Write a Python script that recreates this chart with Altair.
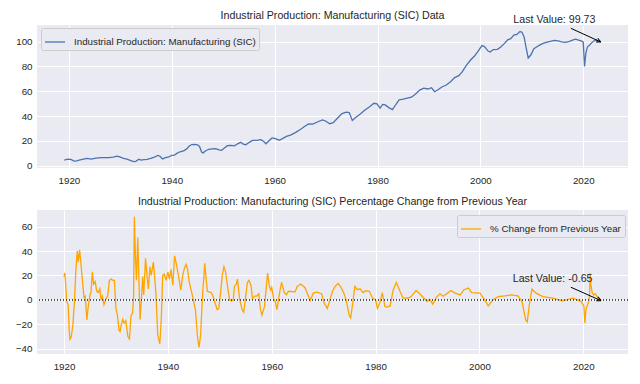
import altair as alt
import pandas as pd

# ---- Industrial Production: Manufacturing (SIC) index ----
ip_years = [1919.1, 1919.6, 1920.0, 1920.5, 1921.0, 1921.5, 1922.0, 1922.8, 1923.5, 1924.4,
            1925.0, 1925.7, 1926.5, 1927.3, 1927.8, 1928.6, 1929.4, 1929.9, 1930.6, 1931.3,
            1931.9, 1932.6, 1933.0, 1933.6, 1934.0, 1934.6, 1935.2, 1935.9, 1936.5, 1937.3,
            1937.7, 1938.2, 1938.8, 1939.4, 1940.0, 1940.5, 1941.0, 1941.6, 1942.3, 1942.9,
            1943.4, 1943.9, 1944.5, 1945.0, 1945.4, 1945.8, 1946.1, 1946.6, 1947.2, 1947.9,
            1948.5, 1949.2, 1949.7, 1950.3, 1950.8, 1951.5, 1952.2, 1952.8, 1953.4, 1953.9,
            1954.4, 1955.0, 1955.7, 1956.5, 1957.3, 1957.9, 1958.3, 1959.0, 1959.5, 1960.0,
            1960.9, 1961.6, 1962.3, 1963.2, 1964.1, 1965.0, 1965.8, 1966.6, 1967.4, 1968.3,
            1969.3, 1969.9, 1970.7, 1971.4, 1972.2, 1973.1, 1973.9, 1974.5, 1975.1, 1975.8,
            1976.6, 1977.5, 1978.4, 1979.3, 1979.9, 1980.5, 1981.0, 1981.5, 1982.2, 1982.9,
            1983.6, 1984.2, 1985.0, 1985.8, 1986.6, 1987.4, 1988.2, 1989.0, 1989.8, 1990.5,
            1991.1, 1991.7, 1992.5, 1993.3, 1994.2, 1995.0, 1995.8, 1996.5, 1997.3, 1998.1,
            1998.9, 1999.6, 2000.3, 2000.8, 2001.5, 2001.9, 2002.5, 2003.3, 2003.9, 2004.6,
            2005.3, 2005.9, 2006.5, 2007.1, 2007.7, 2008.1, 2008.5, 2008.9, 2009.3, 2009.8,
            2010.4, 2011.0, 2011.6, 2012.3, 2013.0, 2013.8, 2014.4, 2015.1, 2015.8, 2016.5,
            2017.2, 2017.9, 2018.5, 2019.1, 2019.7, 2020.0, 2020.25, 2020.5, 2020.8, 2021.2,
            2021.6, 2022.0, 2022.5, 2022.9, 2023.2, 2023.4]
ip_values = [4.5, 5.0, 5.2, 4.8, 3.6, 3.8, 4.4, 5.3, 5.9, 5.3,
             5.8, 6.3, 6.5, 6.4, 6.5, 6.9, 7.6, 7.0, 5.8, 5.2,
             4.3, 3.3, 3.5, 5.2, 4.4, 4.8, 5.0, 5.8, 6.6, 8.3,
             7.6, 5.4, 6.4, 7.0, 8.2, 8.4, 9.9, 11.2, 11.8, 13.5,
             15.8, 17.0, 17.2, 16.8, 15.5, 11.0, 10.3, 12.0, 13.2, 13.6,
             13.7, 12.8, 12.4, 14.4, 16.1, 16.4, 16.0, 17.6, 18.8, 17.4,
             16.9, 18.6, 20.3, 20.4, 21.0, 19.5, 17.6, 20.5, 22.3, 21.9,
             20.5, 22.0, 23.6, 24.8, 26.8, 29.2, 31.6, 33.6, 33.5, 35.2,
             36.9, 36.0, 33.8, 34.6, 38.2, 42.0, 43.2, 42.8, 36.5, 39.0,
             41.5, 44.6, 47.2, 50.3, 49.8, 46.4, 49.4, 49.0, 46.8, 45.2,
             49.5, 53.0, 53.6, 54.4, 55.2, 57.8, 60.9, 62.5, 61.8, 62.8,
             59.6, 61.0, 63.4, 64.8, 67.6, 71.0, 72.6, 75.8, 81.0, 85.2,
             88.6, 92.6, 96.8, 96.0, 92.4, 91.6, 93.6, 93.8, 95.4, 98.2,
             101.4, 102.4, 105.2, 105.8, 108.1, 107.6, 103.8, 95.0, 86.8, 89.2,
             94.2, 95.8, 97.4, 98.8, 99.6, 100.4, 101.0, 100.6, 99.8, 99.4,
             100.0, 101.2, 102.0, 101.2, 100.4, 99.6, 80.0, 90.5, 95.6, 97.0,
             99.0, 100.3, 101.4, 100.0, 100.5, 99.73]

# ---- % change from previous year ----
pct_years = [1920.0, 1920.15, 1920.3, 1920.5, 1920.8, 1921.0, 1921.15, 1921.4, 1921.7, 1922.0,
             1922.3, 1922.55, 1922.75, 1923.0, 1923.25, 1923.5, 1923.85, 1924.1, 1924.4, 1924.65,
             1925.0, 1925.2, 1925.45, 1925.7, 1926.0, 1926.3, 1926.6, 1926.9, 1927.15, 1927.4,
             1927.7, 1928.1, 1928.4, 1928.75, 1929.1, 1929.4, 1929.7, 1930.0, 1930.3, 1930.6,
             1930.8, 1931.0, 1931.3, 1931.6, 1931.9, 1932.3, 1932.6, 1932.9, 1933.2, 1933.4,
             1933.55, 1933.75, 1933.95, 1934.2, 1934.4, 1934.65, 1934.9, 1935.15, 1935.35, 1935.7,
             1936.0, 1936.25, 1936.55, 1936.8, 1937.2, 1937.45, 1937.7, 1938.05, 1938.45, 1938.75,
             1939.0, 1939.3, 1939.65, 1940.0, 1940.3, 1940.6, 1940.95, 1941.3, 1941.6, 1941.9,
             1942.2, 1942.5, 1942.85, 1943.2, 1943.5, 1943.8, 1944.1, 1944.6, 1945.3, 1945.7,
             1946.0, 1946.3, 1946.7, 1946.9, 1947.1, 1947.4, 1947.6, 1948.3, 1948.6, 1949.2,
             1949.5, 1949.8, 1950.2, 1950.5, 1950.8, 1951.1, 1951.6, 1951.9, 1952.3, 1952.6,
             1952.8, 1953.2, 1953.4, 1953.8, 1954.3, 1954.6, 1955.0, 1955.3, 1955.6, 1956.0,
             1956.3, 1956.7, 1957.1, 1957.5, 1957.8, 1958.1, 1958.6, 1958.9, 1959.2, 1959.5,
             1959.8, 1960.0, 1960.4, 1960.7, 1961.0, 1961.3, 1961.6, 1961.9, 1962.4, 1962.8,
             1963.2, 1964.5, 1964.9, 1965.6, 1966.4, 1967.4, 1968.0, 1968.7, 1969.6, 1970.1,
             1970.7, 1971.2, 1971.7, 1972.2, 1972.8, 1973.3, 1973.9, 1974.4, 1974.9, 1975.2,
             1975.6, 1976.0, 1976.5, 1977.0, 1977.6, 1978.1, 1978.8, 1979.4, 1980.0, 1980.35,
             1980.8, 1981.3, 1981.8, 1982.2, 1982.8, 1983.4, 1984.0, 1984.7, 1985.3, 1986.3,
             1986.9, 1987.8, 1988.5, 1989.5, 1989.9, 1990.4, 1991.0, 1991.7, 1992.4, 1993.0,
             1993.7, 1994.5, 1995.3, 1996.3, 1997.0, 1997.9, 1998.5, 2000.1, 2001.0, 2001.7,
             2002.6, 2003.6, 2004.9, 2006.1, 2007.4, 2008.2, 2008.9, 2009.2, 2009.6, 2010.1,
             2010.9, 2012.2, 2014.1, 2016.0, 2018.0, 2018.9, 2019.6, 2020.1, 2020.3, 2020.5,
             2020.8, 2021.0, 2021.2, 2021.3, 2021.45, 2021.7, 2022.0, 2022.3, 2022.6, 2022.9,
             2023.2, 2023.4]
pct_values = [19, 22, 14, -1, -4, -25, -33, -30, -21, -2,
              25, 40, 31, 41, 30, 18, 2, 3, -16.5, -6,
              4, 6, 23, 13, 15, 7, 6, 9, 0, 3,
              -4, 1, 3, 16, 17, 16, 16, -7, -13, -25,
              -26, -21, -16, -19, -17, -30, -32, -13, -11, 3,
              68, 35, 16, 51, 20, -16, 0, 19, 4, 34,
              19, 9, 27, 20, 31, 19, 5, -29, -36, -14,
              20, 21, 16, 23, 17, 25, 12, 36, 30, 23,
              16, 8, 20, 26, 29, 25, 15, 6, -8, -30,
              -39, -29, 6, 17, 30, 16, 7, 6, 4, -4,
              -8, -7, 8, 21, 27, 23, 8, 0, -1, 0,
              11, 13, 17, 1, -8, -10, 3, 14, 16, 12,
              1, 3, 3, 5, -7, -12.5, -5.5, 8, 22, 12,
              8, 10, 0, -1.5, -8, 0, 8, 14.3, 6, 4,
              7, 6.5, 11, 13, 10, -0.5, 5.5, 6.3, 5, -2.7,
              -7, 0, 7, 11, 13.5, 10.5, 5.5, -1.4, -12.4, -14.6,
              -2.7, 11, 8.3, 9, 6, 7.5, 7, 1.4, 0, -7,
              -2.7, 6, -5.5, -6, -5, 8.3, 14.3, 7, 1.4, 1.5,
              3, 7.7, 5, 0.5, -1.4, 0.5, -3.5, 2, 5, 3,
              5, 7.7, 5.5, 4, 8.3, 9.6, 6, 5.5, 0, -5,
              0, 2.7, 3.3, 4, 3.3, -1.4, -16.5, -18, -4, 8.8,
              5.5, 2.7, 1.4, -0.8, 1.4, 0, -1.4, -5, -19, -8,
              -4, -2, 3, 22, 12, 6, 4, 5, 3, 1,
              0.5, -0.65]

x_ticks = [1920, 1940, 1960, 1980, 2000, 2020]
top_y_ticks = [0, 20, 40, 60, 80, 100]
bottom_y_ticks = [-40, -20, 0, 20, 40, 60]

top_title = "Industrial Production: Manufacturing (SIC) Data"
bottom_title = "Industrial Production: Manufacturing (SIC) Percentage Change from Previous Year"
top_series = "Industrial Production: Manufacturing (SIC)"
bottom_series = "% Change from Previous Year"

BG = "#EAEAF2"
TXT = "#262626"
FONT = "Liberation Sans"
BLUE = "#4C72B0"
ORANGE = "#FFA500"

ip_df = pd.DataFrame({"year": ip_years, "value": ip_values, "series": top_series})
pct_df = pd.DataFrame({"year": pct_years, "value": pct_values, "series": bottom_series})

W, H_TOP, H_BOT = 591, 143, 144
ARROW = "M0,0L-0.5,1M0,0L0.5,1"


def panel(df, series, color, x_dom, y_dom, y_ticks, title, title_offset, height, lx, ly,
          zero_line):
    xs = alt.Scale(domain=x_dom, nice=False, zero=False)
    ys = alt.Scale(domain=y_dom, nice=False, zero=False)
    xax = alt.Axis(values=x_ticks, format="d", labelOverlap=False)
    yax = alt.Axis(values=y_ticks, format="d", labelOverlap=False)

    def X(f):
        return alt.X(f, scale=xs, title=None, axis=xax)

    def Y(f):
        return alt.Y(f, scale=ys, title=None, axis=yax)

    line = alt.Chart(df).mark_line(strokeWidth=1.3, clip=True).encode(
        x=X("year:Q"), y=Y("value:Q"),
        color=alt.Color("series:N",
                        scale=alt.Scale(domain=[series], range=[color]),
                        legend=alt.Legend(title=None, orient="none", legendX=lx, legendY=ly,
                                          symbolType="stroke", symbolSize=400,
                                          symbolStrokeWidth=1.3, labelFontSize=9.78,
                                          labelFont=FONT, labelColor=TXT, labelOffset=8,
                                          labelLimit=0,
                                          fillColor=BG, strokeColor="#CCCCCC",
                                          padding=3, cornerRadius=2)),
    )
    layers = [line]
    if zero_line:
        zl = alt.Chart(df).mark_rule(color="#555555", strokeWidth=0.5,
                                     strokeDash=[1, 2]).encode(
            y=alt.datum(0, scale=ys, title=None, axis=yax))
        layers.append(zl)

    last_x = df["year"].iloc[-1]
    last_y = df["value"].iloc[-1]
    a = pd.DataFrame({
        "x": [last_x], "y": [last_y],
        "tx": [last_x - 17.0], "ty": [last_y + 15.0],
        "sx": [last_x - 5.8], "sy": [last_y + 11.0],
        "label": [f"Last Value: {last_y:.2f}"],
    })
    base = alt.Chart(a)
    arrow_line = base.mark_rule(color="black", strokeWidth=1).encode(
        x=X("sx:Q"), y=Y("sy:Q"), x2="x:Q", y2="y:Q")
    arrow_head = base.mark_point(shape=ARROW, size=74, filled=False, color="black",
                                 strokeWidth=1, opacity=1, angle=115).encode(
        x=X("x:Q"), y=Y("y:Q"))
    text = base.mark_text(align="left", baseline="alphabetic", fontSize=10.67,
                          font=FONT, color=TXT).encode(
        x=X("tx:Q"), y=Y("ty:Q"), text="label:N")
    layers += [arrow_line, arrow_head, text]

    return alt.layer(*layers).properties(
        width=W, height=height,
        title=alt.TitleParams(title, fontSize=10.67, font=FONT, color=TXT,
                              fontWeight="normal", anchor="middle", offset=title_offset),
    )


top = panel(ip_df, top_series, BLUE, [1913.8, 2028.7], [-1.9, 113.4], top_y_ticks,
            top_title, -7, H_TOP, 4, 3, False)
bottom = panel(pct_df, bottom_series, ORANGE, [1914.8, 2028.6], [-44.35, 73.6], bottom_y_ticks,
               bottom_title, 2, H_BOT, 420, 5, True)

chart = alt.vconcat(top, bottom, spacing=4).resolve_scale(
    color="independent", x="independent", y="independent"
).properties(
    padding={"left": 5, "top": 1, "right": 2, "bottom": 2}
).configure_view(
    fill=BG, strokeWidth=0
).configure_axis(
    domain=False, ticks=False, grid=True, gridColor="white", gridWidth=1,
    labelFontSize=9.78, labelFont=FONT, labelColor=TXT, labelPadding=5,
    minExtent=24, maxExtent=24,
).configure_axisX(labelPadding=7)

chart.save("out.html", embed_options={"renderer": "svg", "actions": False})
